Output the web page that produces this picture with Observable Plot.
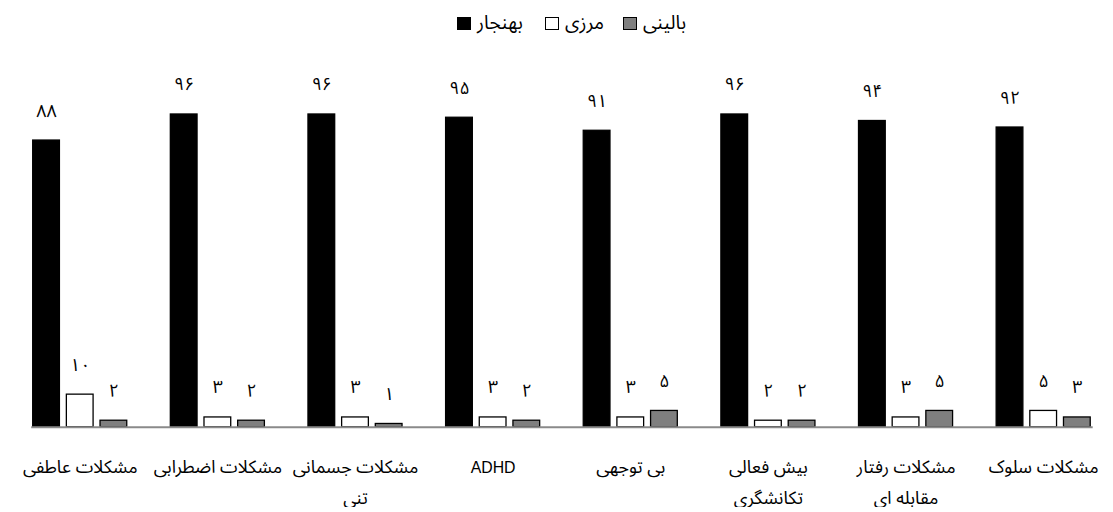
<!DOCTYPE html>
<html>
<head>
<meta charset="utf-8">
<script src="https://cdn.jsdelivr.net/npm/d3@7"></script>
<script src="https://cdn.jsdelivr.net/npm/@observablehq/plot@0.6"></script>
<style>
  html, body { margin: 0; padding: 0; background: #fff; overflow: hidden; }
  #wrap { width: 1113px; height: 512px; overflow: hidden; position: relative; }
  #legend { position: relative; height: 45px; width: 1113px; font-family: "Noto Sans Arabic", "DejaVu Sans", sans-serif; font-size: 19px; color: #000; }
  .item { position: absolute; top: 10px; display: flex; align-items: center; direction: ltr; }
  .sw { width: 14px; height: 13px; border: 1px solid #000; margin-right: 6px; box-sizing: border-box; }
  .lab { direction: rtl; line-height: 26px; }
  svg { display: block; }
</style>
</head>
<body>
<div id="wrap">
  <div id="legend"></div>
  <div id="chart"></div>
</div>
<script>
const categories = ["مشکلات عاطفی", "مشکلات اضطرابی", "مشکلات جسمانی\nتنی", "ADHD", "بی توجهی", "بیش فعالی\nتکانشگری", "مشکلات رفتار\nمقابله ای", "مشکلات سلوک"];
const series = ["بهنجار", "مرزی", "بالینی"];
const normal = [88, 96, 96, 95, 91, 96, 94, 92];
const borderline = [10, 3, 3, 3, 3, 2, 3, 5];
const clinical = [2, 2, 1, 2, 5, 2, 5, 3];
const colors = ["#000000", "#ffffff", "#7f7f7f"];

const persian = s => String(s).replace(/[0-9]/g, d => "۰۱۲۳۴۵۶۷۸۹"[d]);

const seriesValues = [normal, borderline, clinical];
const rows = [];
categories.forEach((c, i) => {
  series.forEach((s, j) => rows.push({category: c, series: s, value: seriesValues[j][i]}));
});

// legend
const legend = document.getElementById("legend");
const legendLeft = [457, 545, 623];
series.forEach((s, j) => {
  const it = document.createElement("div");
  it.className = "item";
  it.style.left = legendLeft[j] + "px";
  it.innerHTML = `<div class="sw" style="background:${colors[j]}"></div><span class="lab">${s}</span>`;
  legend.appendChild(it);
});

const font = "'Noto Sans Arabic', 'DejaVu Sans', sans-serif";
const isLatin = d => /^[A-Za-z]+$/.test(d);
const chart = Plot.plot({
  width: 1124,
  height: 467,
  marginLeft: 11,
  marginRight: 1,
  marginTop: 56.5,
  marginBottom: 81.5,
  style: {fontFamily: font, background: "transparent"},
  fx: {domain: categories, paddingInner: 0.3, paddingOuter: 0.15, axis: null},
  x: {domain: series, paddingInner: 0.2, paddingOuter: 0, axis: null},
  y: {domain: [0, 100], axis: null},
  color: {domain: series, range: colors},
  marks: [
    Plot.barY(rows, {fx: "category", x: "series", y: "value", fill: "series", stroke: "#000", strokeWidth: 1.3}),
    Plot.frame({anchor: "bottom", facet: "super", stroke: "#8a8a8a", strokeWidth: 2}),
    Plot.text(rows, {fx: "category", x: "series", y: "value", text: d => persian(d.value), dy: -30, fontSize: 18, fill: "#000"}),
    Plot.text(categories.filter(d => !isLatin(d)), {fx: d => d, text: d => d, frameAnchor: "bottom", lineAnchor: "top", dy: 24.5, fontSize: 18, lineHeight: 1.72, fill: "#000"}),
    Plot.text(categories.filter(isLatin), {fx: d => d, text: d => d, frameAnchor: "bottom", lineAnchor: "top", dy: 35, fontSize: 16, fill: "#000", fontFamily: "'Liberation Sans', Arial, sans-serif"})
  ]
});
document.getElementById("chart").appendChild(chart);
</script>
</body>
</html>
